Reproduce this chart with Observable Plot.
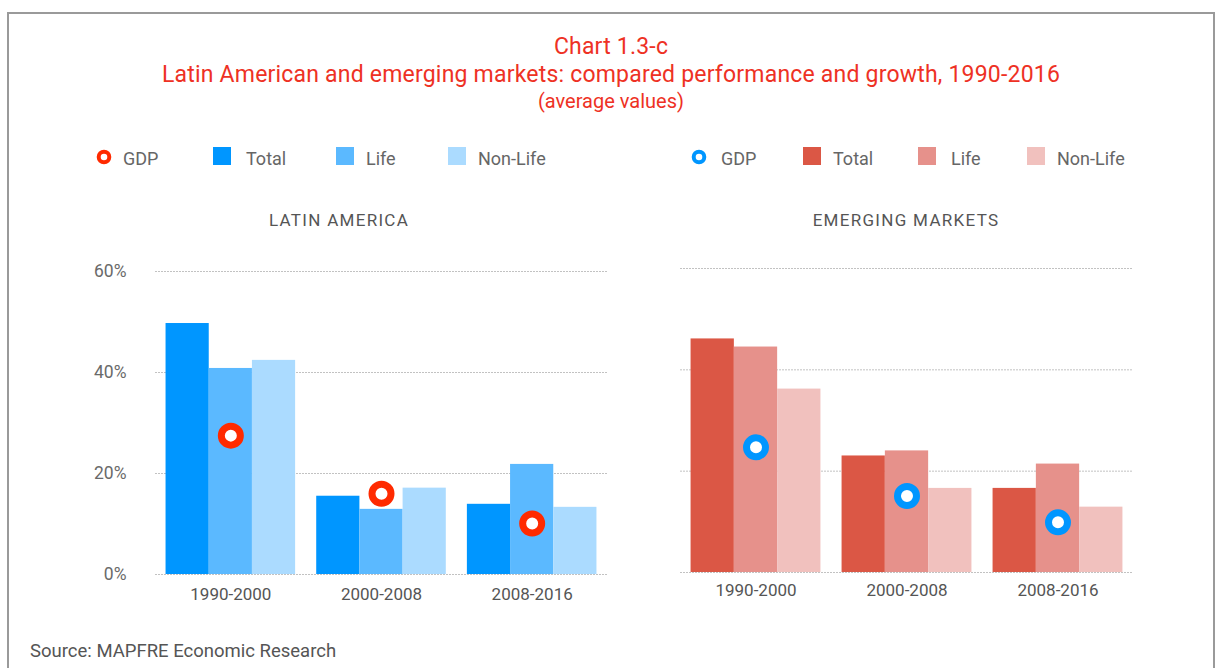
<!DOCTYPE html>
<html>
<head>
<meta charset="utf-8">
<script src="https://cdn.jsdelivr.net/npm/d3@7"></script>
<script src="https://cdn.jsdelivr.net/npm/@observablehq/plot@0.6"></script>
<style>
  html, body { margin: 0; padding: 0; background: #fff; }
  body { width: 1221px; height: 668px; position: relative; overflow: hidden; font-family: Roboto, "Noto Sans", sans-serif; }
  .frame { position: absolute; left: 7px; top: 12px; width: 1208px; height: 720px; box-sizing: border-box; border: 2px solid #9a9a9a; }
  .title { position: absolute; left: 7px; width: 1208px; text-align: center; color: #ee3124; white-space: nowrap; }
  .abs { position: absolute; white-space: nowrap; }
  .leg { position: absolute; font-size: 18px; line-height: 20px; color: #666; white-space: nowrap; }
  .sw { position: absolute; width: 18px; height: 18px; }
  .panelTitle { position: absolute; font-size: 17px; letter-spacing: 1.3px; color: #555; text-align: center; width: 300px; line-height: 20px; }
  .plotwrap { position: absolute; height: 360px; }
  .plotwrap svg { position: absolute; left: 0; top: 0; overflow: visible; max-width: none !important; }
</style>
</head>
<body>
<div class="frame"></div>
<div class="title" style="top:33px;font-size:23px;line-height:28px;letter-spacing:0.2px;">Chart 1.3-c</div>
<div class="title" style="top:61px;font-size:23px;line-height:28px;letter-spacing:0.2px;">Latin American and emerging markets: compared performance and growth, 1990-2016</div>
<div class="title" style="top:88px;font-size:20px;line-height:26px;">(average values)</div>
<div id="legends"></div>
<div class="panelTitle" style="left:189px;top:210px;">LATIN AMERICA</div>
<div class="panelTitle" style="left:756px;top:210px;">EMERGING MARKETS</div>
<div class="plotwrap" id="left" style="left:0px;top:250px;width:620px;"></div>
<div class="plotwrap" id="right" style="left:640px;top:250px;width:500px;"></div>
<div class="abs" style="left:30px;top:640px;font-size:18.5px;line-height:22px;color:#555;">Source: MAPFRE Economic Research</div>
<script>
// ---- data ----
const periods = ["1990-2000", "2000-2008", "2008-2016"];
const seriesNames = ["Total", "Life", "Non-Life"];
const yTicks = [0, 20, 40, 60];

const latTotal   = [49.7, 15.5, 13.9];
const latLife    = [40.8, 12.9, 21.8];
const latNonLife = [42.4, 17.1, 13.3];
const latGdp     = [27.5, 16.0, 10.1];

const emTotal    = [46.1, 23.0, 16.6];
const emLife     = [44.5, 24.0, 21.4];
const emNonLife  = [36.2, 16.6, 12.9];
const emGdp      = [24.7, 15.1, 9.9];

const latColors = ["#0096ff", "#5bb9ff", "#abdbff"];
const emColors  = ["#db5745", "#e6918b", "#f1c1be"];
const latGdpColor = "#ff2a00";
const emGdpColor  = "#0096ff";

function buildRows(vals, gdp) {
  return periods.flatMap((p, i) => seriesNames.map((s, j) => ({period: p, series: s, value: vals[j][i], gdp: gdp[i]})));
}

function panel(el, cfg) {
  const rows = buildRows(cfg.vals, cfg.gdp);
  const common = {
    width: cfg.width, height: 360,
    marginLeft: cfg.ml, marginRight: cfg.mr, marginTop: cfg.mt, marginBottom: cfg.mb,
    style: {fontFamily: "Roboto, sans-serif", background: "transparent", overflow: "visible", maxWidth: "none"}
  };
  const grid = Plot.plot({
    ...common,
    style: {...common.style, fontSize: "17.5px", color: "#6a6a6a"},
    y: {domain: [0, 60], ticks: 3, tickFormat: d => d + "%", tickSize: 0, tickPadding: 29, label: null, axis: cfg.showY ? "left" : null},
    marks: [Plot.ruleY(yTicks, {stroke: "#c2c2c2", strokeDasharray: "2,1", strokeWidth: 1})]
  });
  const bars = Plot.plot({
    ...common,
    style: {...common.style, fontSize: "17px", color: "#555"},
    facet: {data: rows, x: "period", label: null},
    fx: {domain: periods, paddingInner: 0.14, paddingOuter: 0.07, round: false, axis: "bottom", tickSize: 0, tickPadding: cfg.tp, label: null},
    x: {domain: seriesNames, padding: 0, round: false, axis: null},
    y: {domain: [0, 60], axis: null},
    color: {domain: seriesNames, range: cfg.colors},
    marks: [
      Plot.barY(rows, {x: "series", y: "value", fill: "series"}),
      Plot.dot(rows, {filter: d => d.series === "Life", x: "series", y: "gdp", r: 9.5, stroke: cfg.gdpColor, strokeWidth: 7, fill: "white"})
    ]
  });
  el.appendChild(grid);
  el.appendChild(bars);
}

panel(document.getElementById("left"), {
  vals: [latTotal, latLife, latNonLife], gdp: latGdp, colors: latColors, gdpColor: latGdpColor,
  width: 620, ml: 155, mr: 13, mt: 21, mb: 36, showY: true, tp: 13
});
panel(document.getElementById("right"), {
  vals: [emTotal, emLife, emNonLife], gdp: emGdp, colors: emColors, gdpColor: emGdpColor,
  width: 500, ml: 40, mr: 7, mt: 18, mb: 38, showY: false, tp: 11
});

// ---- legends ----
function legend(items, gdpColor, gdpX, gdpTextX) {
  const root = document.getElementById("legends");
  const ring = document.createElementNS("http://www.w3.org/2000/svg", "svg");
  ring.setAttribute("width", 20); ring.setAttribute("height", 20);
  ring.style.position = "absolute"; ring.style.left = (gdpX - 10) + "px"; ring.style.top = "147px";
  ring.innerHTML = `<circle cx="10" cy="10" r="5.3" fill="white" stroke="${gdpColor}" stroke-width="4"/>`;
  root.appendChild(ring);
  const t = document.createElement("div"); t.className = "leg"; t.textContent = "GDP";
  t.style.left = gdpTextX + "px"; t.style.top = "149px"; root.appendChild(t);
  items.forEach(it => {
    const s = document.createElement("div"); s.className = "sw";
    s.style.left = it.sx + "px"; s.style.top = "147px"; s.style.background = it.color; root.appendChild(s);
    const l = document.createElement("div"); l.className = "leg"; l.textContent = it.name;
    l.style.left = it.tx + "px"; l.style.top = "149px"; root.appendChild(l);
  });
}
legend([
  {name: seriesNames[0], color: latColors[0], sx: 213, tx: 246},
  {name: seriesNames[1], color: latColors[1], sx: 336, tx: 366},
  {name: seriesNames[2], color: latColors[2], sx: 448, tx: 478}
], latGdpColor, 104, 123);
legend([
  {name: seriesNames[0], color: emColors[0], sx: 803, tx: 833},
  {name: seriesNames[1], color: emColors[1], sx: 918, tx: 951},
  {name: seriesNames[2], color: emColors[2], sx: 1027, tx: 1057}
], emGdpColor, 699, 721);
</script>
</body>
</html>
